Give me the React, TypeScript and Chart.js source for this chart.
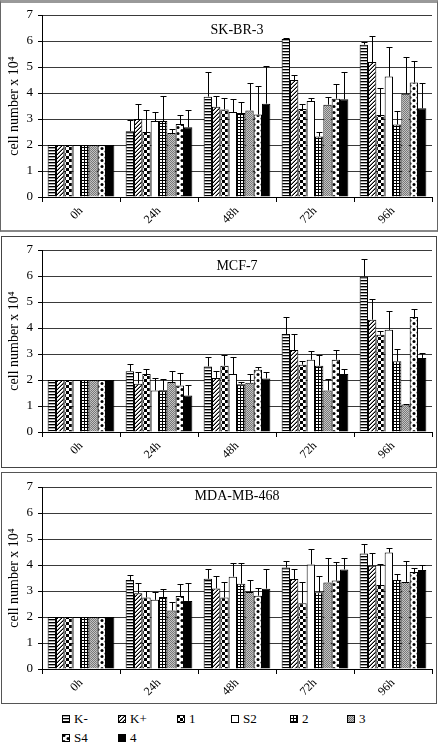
import React, { useEffect, useRef } from 'react';
import { Chart, registerables } from 'chart.js';
Chart.register(...registerables);

const categories = ['0h', '24h', '48h', '72h', '96h'];
const seriesNames = ['K-', 'K+', '1', 'S2', '2', '3', 'S4', '4'];
const seriesFills = ['hstripe', 'diag', 'checker', 'white', 'grid', 'gray', 'dots', 'black'];
const yTicks = [0, 1, 2, 3, 4, 5, 6, 7];
const yTitle = 'cell number x 10\u2074';

// SK-BR-3 (rows = series, cols = categories)
const skbr3Means = [
  [2, 2.53, 3.86, 6.08, 5.86],
  [2, 3.0, 3.47, 4.5, 5.19],
  [2, 2.5, 3.37, 3.38, 3.15],
  [2, 2.92, 3.27, 3.69, 4.63],
  [2, 2.92, 3.23, 2.33, 2.79],
  [2, 2.46, 3.33, 3.55, 3.97],
  [2, 2.81, 3.17, 3.78, 4.4],
  [2, 2.68, 3.59, 3.76, 3.41],
];
const skbr3Errors = [
  [0, 0.42, 0.95, 0.02, 0.11],
  [0, 0.58, 0.42, 0.21, 1.0],
  [0, 0.85, 0.45, 0.21, 1.04],
  [0, 0.34, 0.51, 0.11, 1.15],
  [0, 0.97, 0.44, 0.17, 0.53],
  [0, 0.17, 1.07, 0.31, 1.4],
  [0, 0.34, 1.11, 0.58, 0.83],
  [0, 0.68, 1.45, 1.05, 0.99],
];

// MCF-7
const mcf7Means = [
  [2, 2.34, 2.52, 3.77, 5.98],
  [2, 1.86, 2.08, 3.15, 4.32],
  [2, 2.23, 2.55, 2.59, 3.74],
  [2, 1.6, 2.23, 2.78, 3.93],
  [2, 1.61, 1.84, 2.55, 2.72],
  [2, 1.92, 1.89, 1.6, 1.06],
  [2, 1.79, 2.39, 2.78, 4.42],
  [2, 1.4, 2.06, 2.23, 2.85],
];
const mcf7Errors = [
  [0, 0.28, 0.37, 0.65, 0.69],
  [0, 0.44, 0.26, 0.63, 0.79],
  [0, 0.2, 0.41, 0.13, 0.13],
  [0, 0.48, 0.66, 0.34, 0.71],
  [0, 0.43, 0.09, 0.4, 0.47],
  [0, 0.42, 0.33, 0.43, 0.03],
  [0, 0.48, 0.11, 0.37, 0.33],
  [0, 0.39, 0.24, 0.2, 0.18],
];

// MDA-MB-468
const mdaMeans = [
  [2, 3.42, 3.47, 3.9, 4.44],
  [2, 2.91, 3.1, 3.46, 3.97],
  [2, 2.75, 2.75, 2.53, 3.23],
  [2, 2.66, 3.55, 4.02, 4.48],
  [2, 2.77, 3.28, 2.95, 3.42],
  [2, 2.25, 2.96, 3.33, 3.35],
  [2, 2.81, 2.82, 3.4, 3.73],
  [2, 2.62, 3.09, 3.83, 3.81],
];
const mdaErrors = [
  [0, 0.18, 0.39, 0.24, 0.35],
  [0, 0.41, 0.48, 0.37, 0.51],
  [0, 0.26, 0.6, 0.83, 0.79],
  [0, 0.29, 0.54, 0.6, 0.18],
  [0, 0.32, 0.78, 0.64, 0.22],
  [0, 0.34, 0.48, 0.95, 0.79],
  [0, 0.45, 0.31, 0.73, 0.15],
  [0, 0.68, 0.74, 0.45, 0.19],
];

const FONT = "'Liberation Serif', 'Times New Roman', serif";

function makeTile(kind: string): HTMLCanvasElement {
  const c = document.createElement('canvas');
  let w = 4, h = 4;
  if (kind === 'hstripe') { w = 2; h = 3; }
  if (kind === 'diag') { w = 4; h = 4; }
  if (kind === 'checker') { w = 6; h = 6; }
  if (kind === 'grid') { w = 3; h = 3; }
  if (kind === 'gray') { w = 2; h = 2; }
  if (kind === 'dots') { w = 8; h = 6; }
  c.width = w; c.height = h;
  const g = c.getContext('2d')!;
  g.fillStyle = '#fff';
  g.fillRect(0, 0, w, h);
  if (kind === 'hstripe') {
    g.fillStyle = '#000';
    g.fillRect(0, 0, w, 1);
    g.fillStyle = '#aaa';
    g.fillRect(0, 1, w, 1);
  } else if (kind === 'diag') {
    for (let y = 0; y < h; y++) for (let x = 0; x < w; x++) {
      const s = (x + y) % 4;
      if (s === 3) { g.fillStyle = '#000'; g.fillRect(x, y, 1, 1); }
      else if (s === 2) { g.fillStyle = '#888'; g.fillRect(x, y, 1, 1); }
    }
  } else if (kind === 'checker') {
    g.fillStyle = '#000';
    g.fillRect(0, 0, 3, 3);
    g.fillRect(3, 3, 3, 3);
  } else if (kind === 'grid') {
    g.fillStyle = '#000';
    g.fillRect(0, 0, w, 1);
    g.fillRect(0, 0, 1, h);
  } else if (kind === 'gray') {
    g.fillStyle = '#777';
    g.fillRect(0, 0, 1, 1);
    g.fillRect(1, 1, 1, 1);
    g.fillStyle = '#c4c4c4';
    g.fillRect(1, 0, 1, 1);
    g.fillRect(0, 1, 1, 1);
  } else if (kind === 'dots') {
    g.fillStyle = '#000';
    g.beginPath(); g.arc(2, 1.5, 1.5, 0, Math.PI * 2); g.fill();
    g.beginPath(); g.arc(6, 4.5, 1.5, 0, Math.PI * 2); g.fill();
  }
  return c;
}

function makeFill(ctx: CanvasRenderingContext2D, kind: string): any {
  if (kind === 'white') return '#fff';
  if (kind === 'black') return '#000';
  return ctx.createPattern(makeTile(kind), 'repeat');
}

type PanelProps = {
  title: string;
  means: number[][];
  errors: number[][];
  top: number;
  titleOffset: number;
};

function Panel({ title, means, errors, top, titleOffset }: PanelProps) {
  const ref = useRef<HTMLCanvasElement>(null);
  useEffect(() => {
    const canvas = ref.current!;
    const ctx = canvas.getContext('2d')!;
    const errorBars = {
      id: 'errorBars',
      afterDatasetsDraw(chart: any) {
        const c = chart.ctx;
        const ys = chart.scales.y;
        c.save();
        c.strokeStyle = '#000';
        c.lineWidth = 1;
        chart.data.datasets.forEach((ds: any, di: number) => {
          const meta = chart.getDatasetMeta(di);
          meta.data.forEach((el: any, i: number) => {
            const e = errors[di][i];
            if (!e) return;
            const yTop = ys.getPixelForValue(means[di][i] + e);
            const x = Math.round(el.x) + 0.5;
            c.beginPath();
            c.moveTo(x, el.y);
            c.lineTo(x, Math.round(yTop) + 0.5);
            c.moveTo(x - 3, Math.round(yTop) + 0.5);
            c.lineTo(x + 3, Math.round(yTop) + 0.5);
            c.stroke();
          });
        });
        c.restore();
      },
    };
    const titlePlugin = {
      id: 'panelTitle',
      afterDraw(chart: any) {
        const c = chart.ctx;
        const a = chart.chartArea;
        c.save();
        c.font = `14px ${FONT}`;
        c.fillStyle = '#000';
        c.textAlign = 'center';
        c.textBaseline = 'middle';
        c.fillText(title, (a.left + a.right) / 2, a.top + titleOffset);
        c.restore();
      },
    };
    const chart = new Chart(canvas, {
      type: 'bar',
      data: {
        labels: categories,
        datasets: seriesNames.map((name, i) => ({
          label: name,
          data: means[i],
          backgroundColor: makeFill(ctx, seriesFills[i]),
          borderColor: '#000',
          borderWidth: 1,
          categoryPercentage: 0.855,
          barPercentage: 1.0,
        })),
      },
      options: {
        animation: false,
        responsive: false,
        devicePixelRatio: 1,
        layout: { padding: { left: 0, right: 6, top: 15, bottom: 0 } },
        plugins: { legend: { display: false }, tooltip: { enabled: false } },
        scales: {
          x: {
            grid: {
              display: true,
              drawOnChartArea: false,
              drawTicks: true,
              tickLength: 5,
              color: '#000',
              offset: true,
            },
            border: { display: true, color: '#000', width: 1 },
            ticks: {
              color: '#000',
              font: { family: FONT, size: 12 },
              minRotation: 45,
              maxRotation: 45,
              padding: 2,
            },
            afterFit: (s: any) => { s.height = 34; },
          },
          y: {
            min: 0,
            max: 7,
            afterBuildTicks: (s: any) => { s.ticks = yTicks.map((v) => ({ value: v })); },
            grid: { color: '#3a3a3a', tickColor: '#000', tickLength: 4, lineWidth: 1 },
            border: { display: true, color: '#000', width: 1 },
            ticks: { color: '#000', font: { family: FONT, size: 13 }, padding: 5 },
            title: {
              display: true,
              text: yTitle,
              color: '#000',
              font: { family: FONT, size: 14 },
              padding: { top: 6, bottom: 0 },
            },
            afterFit: (s: any) => { s.width = 42; },
          },
        },
      },
      plugins: [errorBars, titlePlugin],
    } as any);
    return () => chart.destroy();
  }, [title, means, errors, titleOffset]);
  return (
    <canvas
      ref={ref}
      width={438}
      height={231}
      style={{ position: 'absolute', left: 0, top, width: 438, height: 231 }}
    />
  );
}

function Swatch({ kind }: { kind: string }) {
  const ref = useRef<HTMLCanvasElement>(null);
  useEffect(() => {
    const c = ref.current!;
    const g = c.getContext('2d')!;
    g.fillStyle = makeFill(g, kind);
    g.fillRect(0, 0, 8, 8);
    g.strokeStyle = '#000';
    g.lineWidth = 1;
    g.strokeRect(0.5, 0.5, 7, 7);
  }, [kind]);
  return <canvas ref={ref} width={8} height={8} style={{ display: 'block', width: 8, height: 8 }} />;
}

const legendCols = [62, 118, 177, 231, 290, 347];
const legendRows = [719, 738];

export default function App() {
  return (
    <div style={{ position: 'absolute', left: 0, top: 0, width: 438, height: 746, background: '#fff', fontFamily: FONT }}>
      <div style={{ position: 'absolute', left: 0, top: 0, width: 438, height: 232, boxSizing: 'border-box', border: '1px solid #666', borderTop: '3px solid #999', borderBottom: '2px solid #888' }} />
      <div style={{ position: 'absolute', left: 1, top: 236, width: 436, height: 232, boxSizing: 'border-box', border: '1px solid #444' }} />
      <div style={{ position: 'absolute', left: 1, top: 472, width: 436, height: 232, boxSizing: 'border-box', border: '1px solid #555' }} />
      <Panel title="SK-BR-3" means={skbr3Means} errors={skbr3Errors} top={0} titleOffset={15} />
      <Panel title="MCF-7" means={mcf7Means} errors={mcf7Errors} top={235} titleOffset={16} />
      <Panel title="MDA-MB-468" means={mdaMeans} errors={mdaErrors} top={472} titleOffset={9} />
      {seriesNames.map((name, i) => {
        const row = Math.floor(i / 6);
        const col = i % 6;
        return (
          <div
            key={name}
            style={{
              position: 'absolute',
              left: legendCols[col],
              top: legendRows[row] - 8,
              height: 16,
              display: 'flex',
              alignItems: 'center',
              gap: 4,
              fontSize: 13,
              lineHeight: '16px',
              color: '#000',
              whiteSpace: 'nowrap',
            }}
          >
            <Swatch kind={seriesFills[i]} />
            <span>{name}</span>
          </div>
        );
      })}
    </div>
  );
}
